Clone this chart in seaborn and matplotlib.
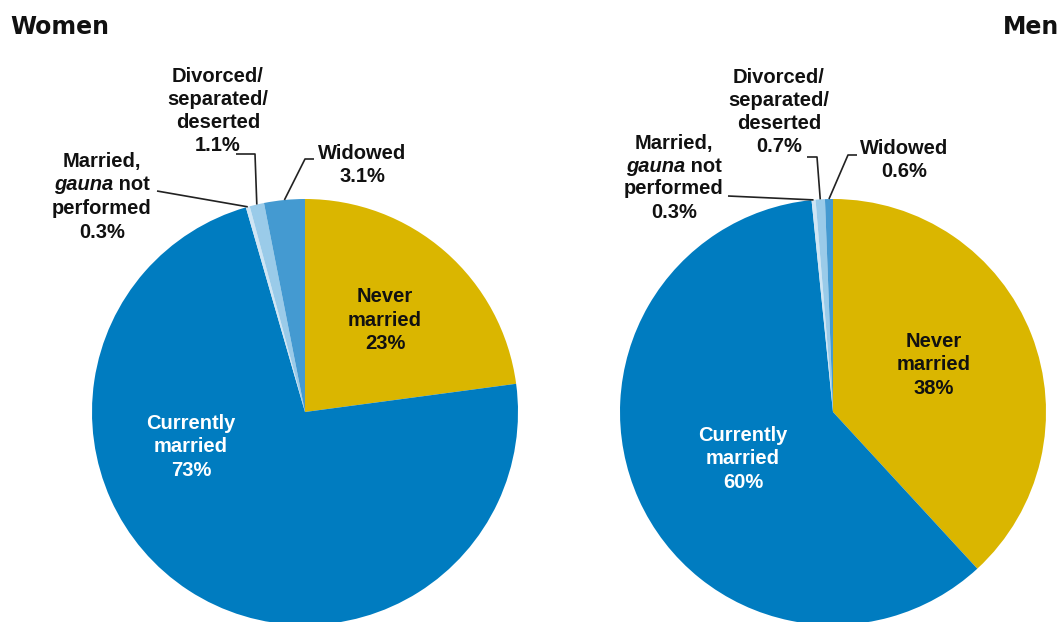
import matplotlib
matplotlib.use('Agg')
import matplotlib.pyplot as plt
import numpy as np
import seaborn as sns

# DATA

statuses = ['Never married', 'Currently married', 'Married, gauna not performed',
            'Divorced/separated/deserted', 'Widowed']
women = [23, 73, 0.3, 1.1, 3.1]
men = [38, 60, 0.3, 0.7, 0.6]
colors = ['#DAB600', '#007CC0', '#CFE5F4', '#9ACBE9', '#449AD1']

# SETUP

sns.set_theme(style='white')
plt.rcParams['font.family'] = ['Liberation Sans', 'DejaVu Sans']

W, H = 1060, 622
R = 213
fig = plt.figure(figsize=(W / 100, H / 100), dpi=100)
ax = fig.add_axes([0, 0, 1, 1])


def Y(y):
    # picture rows -> axes y (y goes up)
    return H - y


FS = 14.5
LS = 1.27
txt = dict(fontsize=FS, fontweight='bold', ha='center', va='center', linespacing=LS)


def edge_point(w):
    mid = np.deg2rad((w.theta1 + w.theta2) / 2)
    cx, cy = w.center
    return cx + w.r * np.cos(mid), cy + w.r * np.sin(mid)


def leader(w, pts):
    px, py = edge_point(w)
    xs = [p[0] for p in pts] + [px]
    ys = [Y(p[1]) for p in pts] + [py]
    ax.plot(xs, ys, color='#222222', lw=1.2, solid_capstyle='butt')


def pct(v):
    return f'{v:g}%'


def gauna_label(x, ys, value):
    # four lines, 'gauna' in italics
    ax.text(x, Y(ys[0]), 'Married,', color='#111111', **txt)
    renderer = fig.canvas.get_renderer()
    t1 = ax.text(0, Y(ys[1]), 'gauna', fontsize=FS, fontweight='bold', style='italic',
                 ha='left', va='center', color='#111111')
    t2 = ax.text(0, Y(ys[1]), ' not', fontsize=FS, fontweight='bold', ha='left',
                 va='center', color='#111111')
    w1 = t1.get_window_extent(renderer).width
    w2 = t2.get_window_extent(renderer).width
    x0 = x - (w1 + w2) / 2
    t1.set_x(x0)
    t2.set_x(x0 + w1)
    ax.text(x, Y(ys[2]), 'performed', color='#111111', **txt)
    ax.text(x, Y(ys[3]), pct(value), color='#111111', **txt)


pies = [
    (women, 305, 412),
    (men, 833, 412),
]
all_wedges = []
for vals, cx, cy in pies:
    wedges, _ = ax.pie(vals, colors=colors, startangle=90, counterclock=False,
                       center=(cx, Y(cy)), radius=R,
                       wedgeprops=dict(linewidth=0, edgecolor='none'))
    all_wedges.append(wedges)

ax.set_xlim(0, W)
ax.set_ylim(0, H)
ax.set_aspect('equal')
ax.axis('off')

# WOMEN LABELS
ww = all_wedges[0]
ax.text(385, Y(320), f'Never\nmarried\n{pct(women[0])}', color='#111111', **txt)
ax.text(191, Y(447), f'Currently\nmarried\n{pct(women[1])}', color='white', **txt)
gauna_label(102, [161, 184, 208, 232], women[2])
ax.text(218, Y(111), f'Divorced/\nseparated/\ndeserted\n{pct(women[3])}', color='#111111', **txt)
ax.text(362, Y(165), f'Widowed\n{pct(women[4])}', color='#111111', **txt)
leader(ww[2], [(157, 191)])
leader(ww[3], [(236, 154), (255, 154)])
leader(ww[4], [(314, 159), (305, 159)])

# MEN LABELS
mw = all_wedges[1]
ax.text(934, Y(365), f'Never\nmarried\n{pct(men[0])}', color='#111111', **txt)
ax.text(743, Y(459), f'Currently\nmarried\n{pct(men[1])}', color='white', **txt)
gauna_label(674, [143, 166, 189, 212], men[2])
ax.text(779, Y(112), f'Divorced/\nseparated/\ndeserted\n{pct(men[3])}', color='#111111', **txt)
ax.text(904, Y(160), f'Widowed\n{pct(men[4])}', color='#111111', **txt)
leader(mw[2], [(728, 196)])
leader(mw[3], [(807, 157), (817, 157)])
leader(mw[4], [(857, 155), (848, 155)])

# TITLES
ax.text(10, Y(27), 'Women', fontsize=17, fontweight='bold', family='DejaVu Sans',
        ha='left', va='center', color='#111111')
ax.text(1003, Y(27), 'Men', fontsize=17, fontweight='bold', family='DejaVu Sans',
        ha='left', va='center', color='#111111')

fig.savefig('out.png', dpi=100)
